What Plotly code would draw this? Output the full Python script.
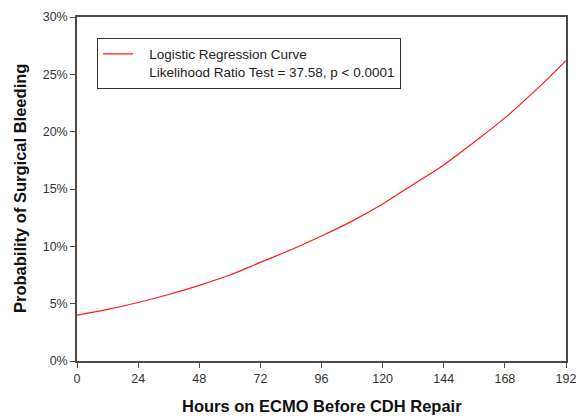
import plotly.graph_objects as go

hours = [0, 12, 24, 36, 48, 60, 72, 84, 96, 108, 120, 132, 144, 156, 168, 180, 192]
prob = [0.040, 0.045, 0.051, 0.058, 0.066, 0.075, 0.086, 0.097, 0.109, 0.122, 0.137, 0.154, 0.171, 0.191, 0.212, 0.236, 0.262]

x_ticks = [0, 24, 48, 72, 96, 120, 144, 168, 192]
y_ticks = [0, 0.05, 0.10, 0.15, 0.20, 0.25, 0.30]
y_labels = ["0%", "5%", "10%", "15%", "20%", "25%", "30%"]

legend_lines = ["Logistic Regression Curve", "Likelihood Ratio Test = 37.58, p < 0.0001"]
x_title = "Hours on ECMO Before CDH Repair"
y_title = "Probability of Surgical Bleeding"

FONT = "Arial, Liberation Sans, sans-serif"
PAD = "\u00a0\u00a0\u00a0"
legend_name = "<br>".join(PAD + s for s in legend_lines)

fig = go.Figure()
fig.add_trace(go.Scatter(
    x=hours, y=prob, mode="lines", name=legend_name,
    line=dict(color="#ff1a1a", width=1.2, shape="spline"),
))

axis_common = dict(
    showgrid=False, zeroline=False, showline=True, linecolor="#4a4a4a", linewidth=1.5,
    mirror=True, ticks="outside", ticklen=5, tickcolor="#4a4a4a", tickwidth=1.2,
    automargin=False, ticklabeloverflow="allow",
    tickfont=dict(family=FONT, size=12.5, color="#333333"),
)

fig.update_layout(
    width=576, height=416,
    margin=dict(l=77, r=10, t=17, b=55),
    paper_bgcolor="white", plot_bgcolor="white",
    showlegend=True,
    legend=dict(
        x=0.041, y=0.94, xanchor="left", yanchor="top",
        bordercolor="#333333", borderwidth=1, bgcolor="white",
        font=dict(family=FONT, size=13.5, color="#222222"),
        itemwidth=30, valign="top",
    ),
    xaxis=dict(range=[0, 192], tickvals=x_ticks, ticktext=[str(t) for t in x_ticks], **axis_common),
    yaxis=dict(range=[0, 0.30], tickvals=y_ticks, ticktext=y_labels, **axis_common),
    annotations=[
        dict(text="<b>" + x_title + "</b>", xref="paper", yref="paper", x=0.5, y=0,
             xanchor="center", yanchor="middle", yshift=-45, showarrow=False,
             font=dict(family=FONT, size=16.5, color="#111111")),
        dict(text="<b>" + y_title + "</b>", xref="paper", yref="paper", x=0, y=0.5,
             xanchor="center", yanchor="middle", xshift=-57, textangle=-90, showarrow=False,
             font=dict(family=FONT, size=16.5, color="#111111")),
    ],
)

fig.write_html(
    "out.html",
    config={"displayModeBar": False},
    post_script="document.body.style.margin='0';document.documentElement.style.overflow='hidden';",
)
